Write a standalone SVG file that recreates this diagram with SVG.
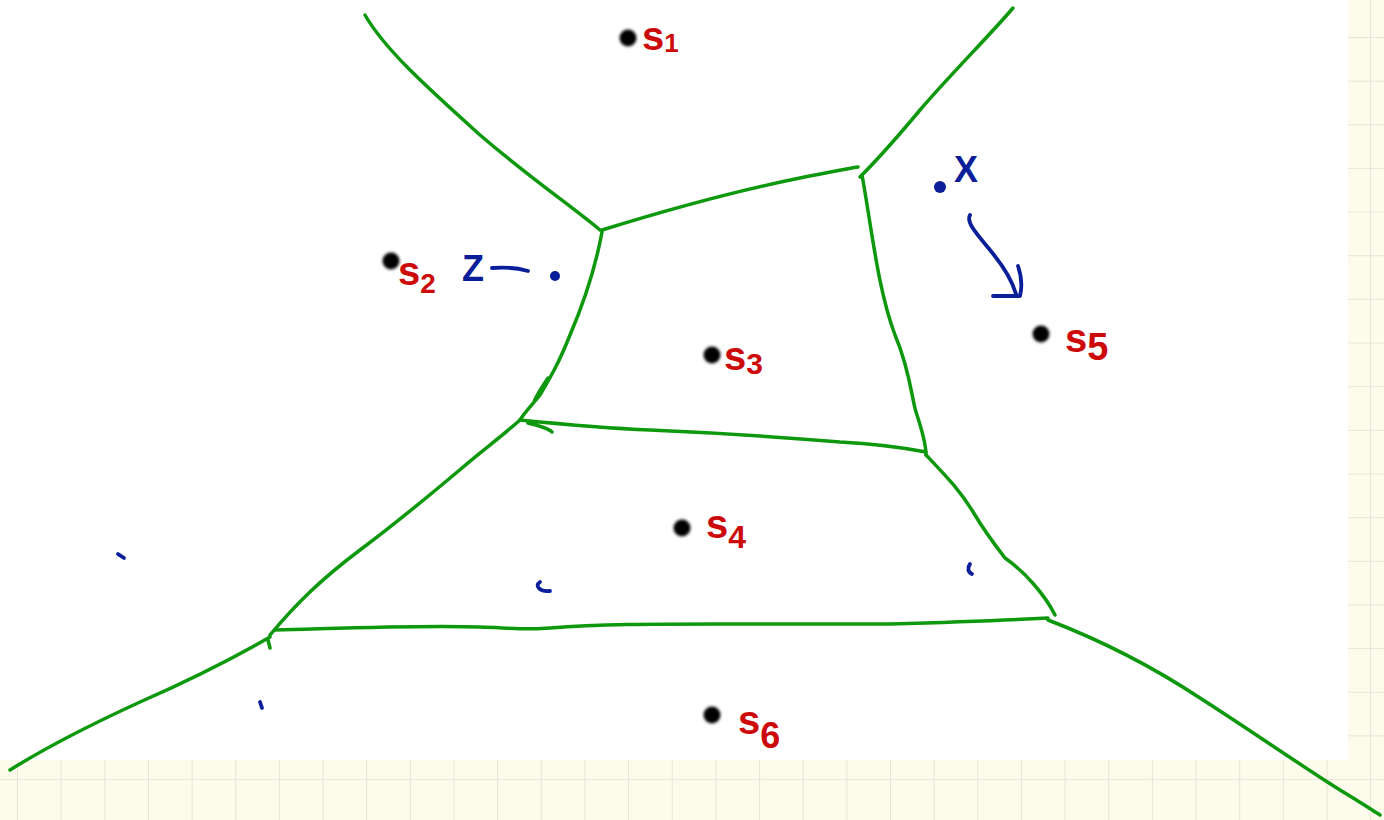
<svg xmlns="http://www.w3.org/2000/svg" width="1384" height="820" viewBox="0 0 1384 820">
<defs>
<pattern id="grid" x="17" y="37" width="43.65" height="43.65" patternUnits="userSpaceOnUse">
<rect width="43.65" height="43.65" fill="#fdfbec"/>
<path d="M0 0 H43.65 M0 0 V43.65" stroke="#e2dfd2" stroke-width="1.5" fill="none"/>
</pattern>
<filter id="blur" x="-50%" y="-50%" width="200%" height="200%"><feGaussianBlur stdDeviation="1.6"/></filter>
</defs>
<style>
.edge{fill:none;stroke:#0d980d;stroke-width:3.5;stroke-linecap:round;stroke-linejoin:round}
.blue{fill:none;stroke:#0a1e9a;stroke-width:3.8;stroke-linecap:round;stroke-linejoin:round}
.site{fill:#000;filter:url(#blur)}
.lbl{font-family:"Liberation Sans",Arial,sans-serif;font-weight:bold;fill:#cc0a0a;font-size:40px}
.btxt{font-family:"Liberation Sans",Arial,sans-serif;font-weight:bold;fill:#0a1e9a;font-size:36px}
</style>
<rect width="1384" height="820" fill="url(#grid)"/>
<rect x="0" y="0" width="1348" height="760" fill="#ffffff"/>
<g id="edges">
<path class="edge" d="M365 15 C385 50 430 90 480 135 C530 178 570 205 600 230"/>
<path class="edge" d="M1013 8 C990 35 950 75 920 110 C895 140 875 162 860 177"/>
<path class="edge" d="M602 230 C660 212 730 192 800 178 C830 172 845 169 858 167"/>
<path class="edge" d="M862 175 C872 230 878 290 895 335 C910 370 912 400 916 412 M916 412 C922 430 926 445 926 455"/>
<path class="edge" d="M602 232 C595 270 585 300 570 335 C558 365 550 378 540 395 C532 405 525 412 520 420 M548 378 C540 390 536 396 534 402"/>
<path class="edge" d="M520 420 C560 424 600 428 650 430 C720 433 780 437 840 442 C880 444 905 448 926 452 M528 423 C540 426 548 428 552 432"/>
<path class="edge" d="M520 420 C500 438 480 452 462 468 C430 495 400 520 360 550 C320 580 295 605 270 635"/>
<path class="edge" d="M926 455 C945 475 960 490 975 515 C985 532 995 545 1005 558 C1025 572 1045 595 1055 615"/>
<path class="edge" d="M275 630 C350 628 420 625 480 627 C510 628 530 630 550 628 C600 624 650 624 720 624 C790 624 850 624 890 624 C960 622 1010 620 1048 618"/>
<path class="edge" d="M270 637 C230 660 190 680 140 702 C90 725 45 748 10 770 M268 640 L270 648"/>
<path class="edge" d="M1048 620 C1100 640 1150 665 1200 698 C1250 730 1300 765 1340 790 C1360 802 1372 810 1380 815"/>
</g>
<g id="annotations">
<circle cx="555" cy="276" r="5" fill="#0a1e9a"/>
<path class="blue" d="M492 268 C505 267 518 268 528 271"/>
<text class="btxt" x="462" y="281">Z</text>
<circle cx="940" cy="187" r="6" fill="#0a1e9a"/>
<text class="btxt" x="954" y="182">X</text>
<path class="blue" d="M970 215 C966 222 975 232 990 250 C1005 268 1012 280 1016 294"/>
<path class="blue" d="M1018 266 C1022 278 1022 288 1020 296 L993 296"/>
<path class="blue" d="M118 554 L124 558"/>
<path class="blue" d="M540 582 C534 586 540 592 550 591"/>
<path class="blue" d="M970 564 C967 568 968 572 972 574"/>
<path class="blue" d="M260 702 L262 708"/>
</g>
<g id="s1"><circle class="site" cx="628" cy="38" r="8.5"/><text class="lbl" x="642" y="50">s<tspan font-size="26" dy="2">1</tspan></text></g>
<g id="s2"><circle class="site" cx="391" cy="261" r="8.5"/><text class="lbl" x="398" y="285" font-size="36">s<tspan font-size="28" dy="8">2</tspan></text></g>
<g id="s3"><circle class="site" cx="712" cy="355" r="8.5"/><text class="lbl" x="724" y="370" font-size="32">s<tspan dy="4" font-size="30">3</tspan></text></g>
<g id="s4"><circle class="site" cx="682" cy="528" r="8.5"/><text class="lbl" x="706" y="538">s<tspan dy="10" font-size="32">4</tspan></text></g>
<g id="s5"><circle class="site" cx="1041" cy="334" r="8.5"/><text class="lbl" x="1065" y="352">s<tspan dy="8" font-size="38">5</tspan></text></g>
<g id="s6"><circle class="site" cx="712" cy="715" r="8.5"/><text class="lbl" x="738" y="734" font-size="32">s<tspan dy="14" font-size="36">6</tspan></text></g>
</svg>
